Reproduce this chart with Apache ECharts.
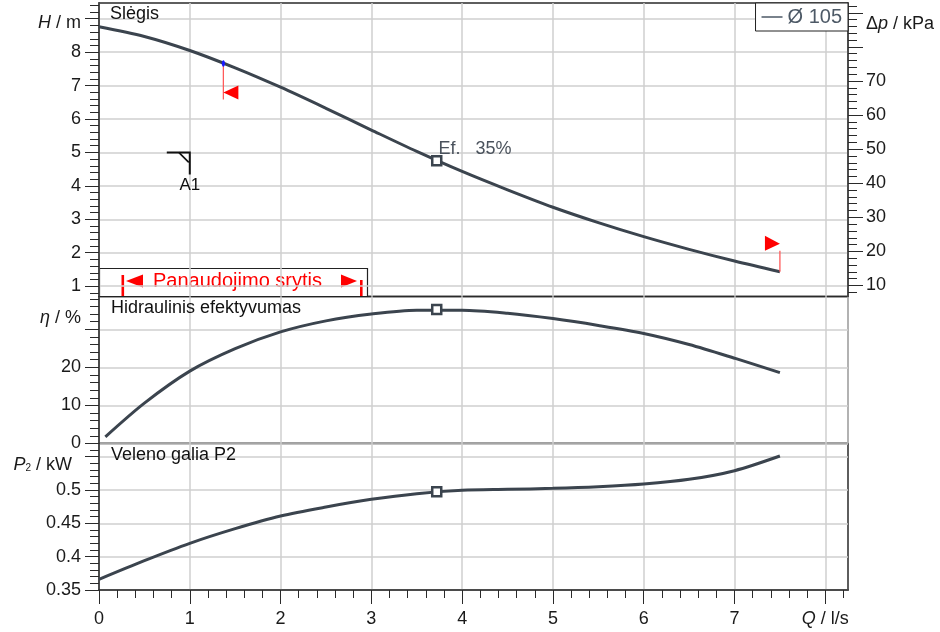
<!DOCTYPE html>
<html><head><meta charset="utf-8">
<script src="https://cdn.jsdelivr.net/npm/echarts@6/dist/echarts.min.js"></script>
<style>html,body{margin:0;padding:0;background:#fff}#c{width:940px;height:632px}</style>
</head><body><div id="c"></div>
<script>
// ---------- data ----------
const flowQ  = [0, 0.5, 1, 1.5, 2, 2.5, 3, 3.5, 4, 4.5, 5, 5.5, 6, 6.5, 7, 7.5];
const headH  = [8.76, 8.47, 8.05, 7.53, 6.95, 6.32, 5.67, 5.03, 4.43, 3.88, 3.36, 2.90, 2.48, 2.10, 1.75, 1.43];
const effQ   = [0.07, 0.5, 1, 1.5, 2, 2.5, 3, 3.5, 4, 4.5, 5, 5.5, 6, 6.5, 7, 7.5];
const effEta = [1.75, 10.6, 19.0, 24.9, 29.3, 32.2, 34.0, 35.0, 35.0, 34.2, 32.8, 31.0, 28.9, 26.0, 22.4, 18.6];
const powQ   = [0, 0.5, 1, 1.5, 2, 2.5, 3, 3.5, 4, 4.5, 5, 5.5, 6, 6.5, 7, 7.5];
const powP   = [0.366, 0.394, 0.420, 0.442, 0.461, 0.4745, 0.486, 0.4945, 0.4995, 0.501, 0.5025, 0.505, 0.509, 0.516, 0.529, 0.551];
const bepQ   = [3.72];
const bepH   = [4.75];
const bepEta = [35.2];
const bepP   = [0.4975];
const rangeQ = [1.37, 7.5];
const rangeH = [7.66, 1.43];
const rangeSide = [0, 1];
const a1Q = [1];
const a1H = [5];
const curveName = 'Ø 105';
// tick labels
const qLabels   = [0, 1, 2, 3, 4, 5, 6, 7, 8];
const hLabels   = [1, 2, 3, 4, 5, 6, 7, 8];
const dpLabels  = [10, 20, 30, 40, 50, 60, 70];
const etaLabels = [0, 10, 20];
const pLabels   = [0.35, 0.4, 0.45, 0.5];
const qMajor   = [0, 1, 2, 3, 4, 5, 6, 7, 8];
const hMajor   = [1, 2, 3, 4, 5, 6, 7, 8, 9];
const dpMajor  = [10, 20, 30, 40, 50, 60, 70, 80, 90];
const etaMajor = [0, 10, 20, 30];
const pMajor   = [0.35, 0.4, 0.45, 0.5, 0.55];

// ---------- config ----------
const FONT = '"Liberation Sans", Arial, Helvetica, sans-serif';
const ink = '#3b444e';
const gridCol = '#cfcfcf';
const axisCol = '#2a2a2a';
const kPaPerM = 9.80665;
const qMin = 0, qMax = 8.25;
const hMin = 0.69, hMax = 9.47;
const etaMin = 0, etaMax = 38.6;
const pMin = 0.35, pMax = 0.5698;

function minorVals(min, max, step, major) {
  const out = [];
  const start = Math.ceil(min / step - 1e-9);
  for (let k = start; k * step <= max + 1e-9; k++) {
    const v = Math.round(k * step * 10000) / 10000;
    const r = v / major;
    if (Math.abs(r - Math.round(r)) > 1e-6 && v > min && v < max) out.push(v);
  }
  return out;
}
const pairs = (xs, ys) => xs.map((x, i) => [x, ys[i]]);

const labelStyle = { fontSize: 18, fontFamily: FONT, color: '#1a1a1a' };

function yMajor(gridIndex, position, min, max, ticks, labels, len, extra) {
  return Object.assign({
    type: 'value', gridIndex, position, min, max,
    axisLine: { show: true, onZero: false, lineStyle: { color: axisCol, width: 1.5 } },
    axisTick: { show: true, inside: false, length: len, customValues: ticks, lineStyle: { color: axisCol, width: 1 } },
    axisLabel: Object.assign({ show: true, customValues: labels, margin: 18, showMinLabel: true, showMaxLabel: true }, labelStyle),
    splitLine: { show: true, lineStyle: { color: gridCol, width: 1.5 } },
    minorTick: { show: false }
  }, extra || {});
}
function yMinor(gridIndex, position, min, max, ticks, len) {
  return {
    type: 'value', gridIndex, position, min, max,
    axisLine: { show: false, onZero: false },
    axisTick: { show: true, inside: false, length: len, customValues: ticks, lineStyle: { color: axisCol, width: 1 } },
    axisLabel: { show: false },
    splitLine: { show: false }
  };
}

const hMinor = minorVals(hMin, hMax, 0.2, 1);
const dpMin = hMin * kPaPerM, dpMax = hMax * kPaPerM;
const dpMinor = minorVals(dpMin, dpMax, 2, 10);
const etaMinor = minorVals(etaMin, etaMax, 2, 10);
const pMinor = minorVals(pMin, pMax, 0.01, 0.05);
const qMinor = minorVals(qMin, qMax, 0.2, 1);

const grids = [
  { left: 99, right: 92, top: 3, height: 293.5 },
  { left: 99, right: 92, top: 296.5, height: 147 },
  { left: 99, right: 92, top: 443.5, height: 146.5 }
].map(g => Object.assign(g, { show: true, borderColor: axisCol, borderWidth: 1.5, backgroundColor: 'transparent' }));

const xPlain = (gi) => ({
  type: 'value', gridIndex: gi, min: qMin, max: qMax, interval: 1,
  axisLine: { show: false, onZero: false }, axisTick: { show: false }, axisLabel: { show: false },
  splitLine: { show: true, lineStyle: { color: gridCol, width: 1.5 } }
});

const xAxes = [
  xPlain(0), xPlain(1),
  {
    type: 'value', gridIndex: 2, min: qMin, max: qMax, interval: 1, position: 'bottom',
    axisLine: { show: true, onZero: false, lineStyle: { color: axisCol, width: 1.5 } },
    axisTick: { show: true, inside: false, length: 14, customValues: qMajor, lineStyle: { color: axisCol, width: 1 } },
    axisLabel: Object.assign({
      show: true, customValues: qLabels, margin: 20,
      formatter: v => (v === qLabels[qLabels.length - 1] ? '{i|Q} / l/s' : String(v)),
      rich: { i: { fontStyle: 'italic', fontSize: 18, fontFamily: FONT, color: '#1a1a1a' } }
    }, labelStyle),
    splitLine: { show: true, lineStyle: { color: gridCol, width: 1.5 } }
  },
  {
    type: 'value', gridIndex: 2, min: qMin, max: qMax, position: 'bottom',
    axisLine: { show: false, onZero: false },
    axisTick: { show: true, inside: false, length: 8, customValues: qMinor, lineStyle: { color: axisCol, width: 1 } },
    axisLabel: { show: false }, splitLine: { show: false }
  }
];

const yAxes = [
  yMajor(0, 'left', hMin, hMax, hMajor, hLabels, 14, { splitNumber: 9 }),                 // 0
  yMinor(0, 'left', hMin, hMax, hMinor, 9),                                                 // 1
  yMajor(0, 'right', dpMin, dpMax, dpMajor, dpLabels, 15, { splitNumber: 9, splitLine: { show: false } }), // 2
  yMinor(0, 'right', dpMin, dpMax, dpMinor, 9),                                             // 3
  yMajor(1, 'left', etaMin, etaMax, etaMajor, etaLabels, 14, { interval: 10 }),             // 4
  yMinor(1, 'left', etaMin, etaMax, etaMinor, 9),                                           // 5
  yMajor(2, 'left', pMin, pMax, pMajor, pLabels, 14, { interval: 0.05 }),                   // 6
  yMinor(2, 'left', pMin, pMax, pMinor, 9)                                                  // 7
];

const lineBase = { type: 'line', smooth: 0.3, showSymbol: false, symbol: 'none',
  lineStyle: { color: ink, width: 3 }, itemStyle: { color: ink }, z: 5, silent: true };
const bepBase = { type: 'scatter', symbol: 'rect', symbolSize: 9, z: 6, silent: true,
  itemStyle: { color: '#fff', borderColor: ink, borderWidth: 2.5, opacity: 1 } };

const series = [
  Object.assign({}, lineBase, { name: curveName, xAxisIndex: 0, yAxisIndex: 0, data: pairs(flowQ, headH) }),
  Object.assign({}, bepBase, { xAxisIndex: 0, yAxisIndex: 0, data: pairs(bepQ, bepH),
    label: { show: true, position: 'right', offset: [-9, -12], fontSize: 18, fontFamily: FONT, color: '#4a525c', opacity: 1,
      formatter: () => 'Ef.   ' + Math.round(bepEta[0]) + '%' } }),
  Object.assign({}, lineBase, { name: 'eta', xAxisIndex: 1, yAxisIndex: 4, data: pairs(effQ, effEta) }),
  Object.assign({}, bepBase, { xAxisIndex: 1, yAxisIndex: 4, data: pairs(bepQ, bepEta) }),
  Object.assign({}, lineBase, { name: 'p2', xAxisIndex: 2, yAxisIndex: 6, data: pairs(powQ, powP) }),
  Object.assign({}, bepBase, { xAxisIndex: 2, yAxisIndex: 6, data: pairs(bepQ, bepP) }),
  {
    type: 'custom', xAxisIndex: 0, yAxisIndex: 0, z: 7, silent: true, clip: false,
    data: rangeQ.map((q, i) => [q, rangeH[i], rangeSide[i]]),
    renderItem(params, api) {
      const p = api.coord([api.value(0), api.value(1)]);
      const x = p[0], y = p[1];
      if (api.value(2) === 0) {
        return { type: 'group', children: [
          { type: 'line', shape: { x1: x, y1: y, x2: x, y2: y + 36 }, style: { stroke: '#ff5a5a', lineWidth: 1.3 } },
          { type: 'polygon', shape: { points: [[x, y + 29], [x + 15, y + 22], [x + 15, y + 36]] }, style: { fill: '#ff0000' } },
          { type: 'ellipse', shape: { cx: x, cy: y, rx: 1.6, ry: 3.2 }, style: { fill: '#1a1aff' } }
        ] };
      }
      return { type: 'group', children: [
        { type: 'line', shape: { x1: x, y1: y, x2: x, y2: y - 21 }, style: { stroke: '#ff5a5a', lineWidth: 1.3 } },
        { type: 'polygon', shape: { points: [[x - 15, y - 36], [x, y - 28], [x - 15, y - 21]] }, style: { fill: '#ff0000' } }
      ] };
    }
  },
  {
    type: 'custom', xAxisIndex: 0, yAxisIndex: 0, z: 7, silent: true, clip: false,
    data: pairs(a1Q, a1H),
    renderItem(params, api) {
      const p = api.coord([api.value(0), api.value(1)]);
      const x = p[0], y = p[1];
      return { type: 'group', children: [
        { type: 'polyline', shape: { points: [[x - 23, y], [x, y], [x, y + 22]] }, style: { stroke: '#111', lineWidth: 2, fill: null } },
        { type: 'line', shape: { x1: x - 11, y1: y, x2: x - 1, y2: y + 10 }, style: { stroke: '#111', lineWidth: 1.6 } },
        { type: 'text', x: x, y: y + 33, style: { text: 'A1', align: 'center', verticalAlign: 'middle', fontSize: 17, fontFamily: FONT, fill: '#111' } }
      ] };
    }
  }
];

const titleStyle = { fontSize: 18, fontWeight: 'normal', color: '#111', fontFamily: FONT };
const titles = [
  { text: 'Slėgis', left: 110, top: 5, padding: 0, textStyle: titleStyle },
  { text: 'Hidraulinis efektyvumas', left: 111, top: 299, padding: 0, textStyle: titleStyle },
  { text: 'Veleno galia P2', left: 111, top: 446, padding: 0, textStyle: titleStyle }
];

const ital = { fontStyle: 'italic', fontSize: 18, fontFamily: FONT, fill: '#1a1a1a', color: '#1a1a1a' };
const axText = (x, y, text, align, rich) => ({
  type: 'text', x, y, z: 20,
  style: { text, align, verticalAlign: 'middle', fontSize: 18, fontFamily: FONT, fill: '#1a1a1a', rich }
});

const graphic = [
  axText(81, 23, '{i|H} / m', 'right', { i: ital }),
  axText(866, 24, 'Δ{i|p} / kPa', 'left', { i: ital }),
  axText(81, 318, '{i|η} / %', 'right', { i: ital }),
  axText(72, 465, '{i|P}{s|2} / kW', 'right', { i: ital, s: { fontSize: 10, fontFamily: FONT, fill: '#1a1a1a', padding: [6, 0, 0, 0] } }),
  {
    type: 'group', z: 30, children: [
      { type: 'rect', shape: { x: 99.5, y: 268.5, width: 268, height: 28 }, style: { fill: '#fff', stroke: '#222', lineWidth: 1.2 } },
      { type: 'rect', shape: { x: 121.5, y: 275, width: 2.6, height: 21 }, style: { fill: '#ff0000' } },
      { type: 'polygon', shape: { points: [[126, 281], [143, 274.5], [143, 287.5]] }, style: { fill: '#ff0000' } },
      { type: 'text', x: 153, y: 281, style: { text: 'Panaudojimo srytis', align: 'left', verticalAlign: 'middle', fontSize: 20, fontFamily: FONT, fill: '#ff0000' } },
      { type: 'polygon', shape: { points: [[341, 274.5], [357, 281], [341, 287.5]] }, style: { fill: '#ff0000' } },
      { type: 'rect', shape: { x: 360, y: 280, width: 2.6, height: 16 }, style: { fill: '#ff0000' } }
    ]
  }
];

const chart = echarts.init(document.getElementById('c'), null, { renderer: 'canvas' });
chart.setOption({
  animation: false,
  backgroundColor: '#fff',
  title: titles,
  grid: grids,
  xAxis: xAxes,
  yAxis: yAxes,
  legend: {
    data: [{ name: curveName, icon: 'rect', itemStyle: { color: '#4d5966' } }],
    right: 92, top: 3, padding: [4, 6, 4, 6], itemWidth: 21, itemHeight: 1.5,
    borderColor: '#222', borderWidth: 1, backgroundColor: '#fff', selectedMode: false, z: 30,
    textStyle: { fontSize: 20, fontFamily: FONT, color: '#4d5966' }
  },
  series,
  graphic
});
</script>
</body></html>
